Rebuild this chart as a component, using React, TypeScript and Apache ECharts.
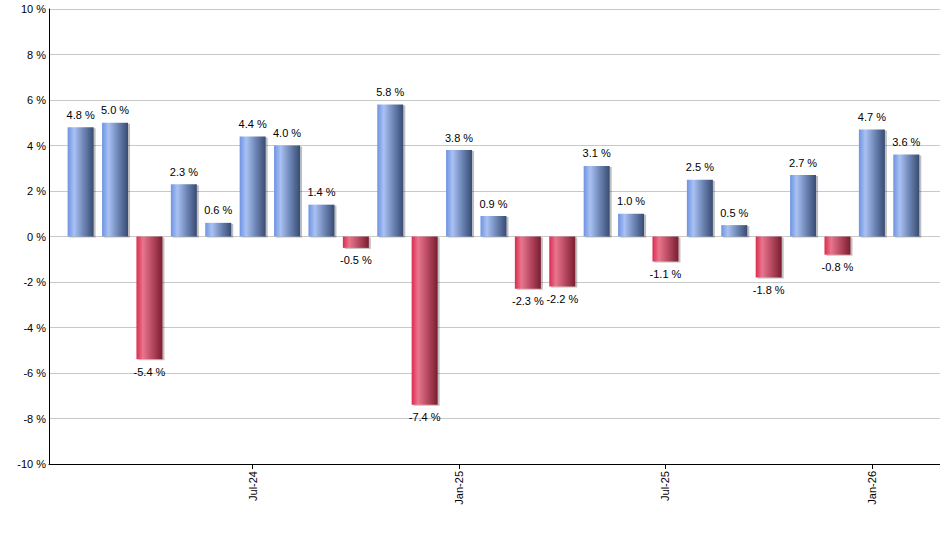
import React, { useEffect, useRef } from "react";
import * as echarts from "echarts";

const months = [
  "Feb-24", "Mar-24", "Apr-24", "May-24", "Jun-24", "Jul-24", "Aug-24", "Sep-24", "Oct-24",
  "Nov-24", "Dec-24", "Jan-25", "Feb-25", "Mar-25", "Apr-25", "May-25", "Jun-25", "Jul-25",
  "Aug-25", "Sep-25", "Oct-25", "Nov-25", "Dec-25", "Jan-26", "Feb-26",
];
const values = [
  4.8, 5.0, -5.4, 2.3, 0.6, 4.4, 4.0, 1.4, -0.5, 5.8, -7.4, 3.8, 0.9, -2.3, -2.2, 3.1, 1.0,
  -1.1, 2.5, 0.5, -1.8, 2.7, -0.8, 4.7, 3.6,
];
const labelMonths = ["Jul-24", "Jan-25", "Jul-25", "Jan-26"];
const yTicks = [-10, -8, -6, -4, -2, 0, 2, 4, 6, 8, 10];

const blueGrad = () =>
  new echarts.graphic.LinearGradient(0, 0, 1, 0, [
    { offset: 0, color: "#6e93e2" },
    { offset: 0.25, color: "#a9c2f3" },
    { offset: 0.6, color: "#6f88b8" },
    { offset: 1, color: "#384b72" },
  ]);
const redGrad = () =>
  new echarts.graphic.LinearGradient(0, 0, 1, 0, [
    { offset: 0, color: "#dc2b50" },
    { offset: 0.25, color: "#e8768d" },
    { offset: 0.6, color: "#b84a62" },
    { offset: 1, color: "#7a1e30" },
  ]);

export default function App() {
  const ref = useRef<HTMLDivElement>(null);
  useEffect(() => {
    const chart = echarts.init(ref.current!, null, { renderer: "svg" });
    const labelIdx = labelMonths.map((m) => months.indexOf(m));
    chart.setOption({
      animation: false,
      grid: { left: 49, right: 0, top: 9, bottom: 86, containLabel: false },
      xAxis: {
        type: "value",
        min: -0.92,
        max: 24.98,
        axisLine: { show: true, onZero: false, lineStyle: { color: "#000", width: 1 } },
        axisTick: {
          show: true,
          customValues: labelIdx,
          length: 5,
          lineStyle: { color: "#000" },
        },
        axisLabel: {
          show: true,
          customValues: labelIdx,
          rotate: 90,
          margin: 7,
          fontSize: 11,
          fontFamily: "Arial, 'Liberation Sans', sans-serif",
          color: "#000",
          formatter: (v: number) => months[Math.round(v)] ?? "",
        },
        splitLine: { show: false },
      },
      yAxis: {
        type: "value",
        min: -10,
        max: 10,
        interval: 2,
        axisLine: { show: true, onZero: false, lineStyle: { color: "#000", width: 1 } },
        axisTick: { show: false },
        axisLabel: {
          margin: 3,
          fontSize: 11,
          fontFamily: "Arial, 'Liberation Sans', sans-serif",
          color: "#000",
          formatter: (v: number) => (yTicks.includes(v) ? `${v} %` : ""),
        },
        splitLine: { show: true, lineStyle: { color: "#c8c8c8", width: 1 } },
      },
      series: [
        {
          type: "bar",
          barWidth: 26,
          data: values.map((v, i) => ({
            value: [i, v],
            itemStyle: {
              color: v >= 0 ? blueGrad() : redGrad(),
              shadowColor: "rgba(0,0,0,0.25)",
              shadowOffsetX: 2,
              shadowOffsetY: 1,
              shadowBlur: 1,
            },
            label: {
              show: true,
              position: v >= 0 ? "top" : "bottom",
              distance: 7,
            },
          })),
          label: {
            fontSize: 11,
            fontFamily: "Arial, 'Liberation Sans', sans-serif",
            color: "#000",
            formatter: (p: any) => `${p.value[1].toFixed(1)} %`,
          },
        },
      ],
    });
    return () => chart.dispose();
  }, []);
  return (
    <div
      ref={ref}
      style={{ position: "absolute", left: 0, top: 0, width: 940, height: 550, background: "#fff" }}
    />
  );
}
